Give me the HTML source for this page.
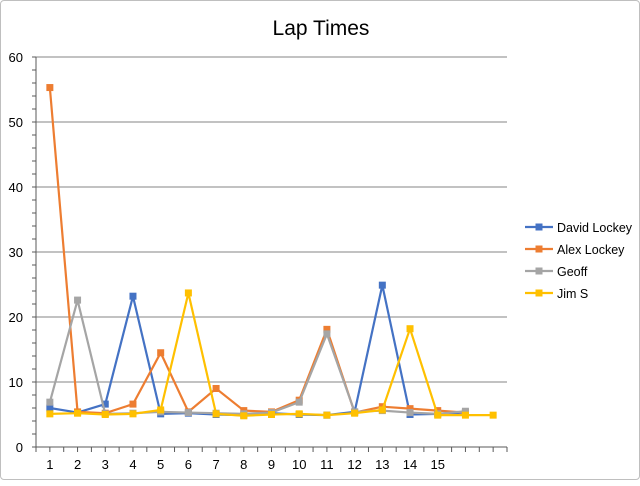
<!DOCTYPE html>
<html><head><meta charset="utf-8"><style>
body{margin:0;background:#fff;font-family:"Liberation Sans",sans-serif}
#c{position:absolute;left:0;top:0;width:638px;height:478px;border:1px solid #bfbfbf;border-radius:4px}
</style></head><body>
<div id="c">
<svg id="s" width="640" height="480"></svg>
</div>
<script>
const categories=[1,2,3,4,5,6,7,8,9,10,11,12,13,14,15,16,17];
const tickLabels=["1","2","3","4","5","6","7","8","9","10","11","12","13","14","15","",""];
const yTicks=[0,10,20,30,40,50,60];
const seriesNames=["David Lockey","Alex Lockey","Geoff","Jim S"];
const david=[6.0,5.3,6.6,23.2,5.1,5.2,5.0,4.9,5.2,5.0,4.9,5.4,24.9,5.0,5.1,5.3];
const alex=[55.3,5.4,5.2,6.6,14.5,5.4,9.0,5.6,5.4,7.2,18.1,5.3,6.2,5.9,5.6,5.3];
const geoff=[6.9,22.6,5.1,5.2,5.4,5.3,5.2,5.1,5.3,6.9,17.4,5.4,5.6,5.3,5.1,5.5];
const jim=[5.1,5.2,5.0,5.1,5.7,23.7,5.1,4.8,5.0,5.1,4.9,5.2,5.7,18.2,4.9,4.9,4.9];
const colors=["#4472c4","#ed7d31","#a5a5a5","#ffc000"];
const NS="http://www.w3.org/2000/svg",s=document.getElementById('s');
const X0=35,X1=506,Y0=446,Y1=56,bw=(X1-X0)/categories.length;
const xs=i=>X0+bw*(i+0.5), ys=v=>Y0-(v/60)*(Y0-Y1);
function mk(t,a,p){const e=document.createElementNS(NS,t);for(const k in a)e.setAttribute(k,a[k]);(p||s).appendChild(e);return e;}
let t=mk('text',{x:320,y:34,'text-anchor':'middle','font-size':21,fill:'#000'});t.textContent='Lap Times';


yTicks.forEach(v=>{
 if(v>0){const g=mk('line',{x1:X0,x2:X1,y1:ys(v),y2:ys(v),stroke:'#868686','stroke-width':1});
 
 }
 const l=mk('text',{x:22,y:ys(v)+5,'text-anchor':'end','font-size':13,fill:'#000'});l.textContent=v;
 
 
});
for(let v=0;v<=60;v+=2){mk('line',{x1:X0-4,x2:X0,y1:ys(v),y2:ys(v),stroke:'#595959'});}
mk('line',{x1:X0,x2:X0,y1:Y1,y2:Y0+4,stroke:'#595959'});
mk('line',{x1:X0,x2:X1,y1:Y0,y2:Y0,stroke:'#595959'});
for(let i=0;i<=categories.length*2;i++){const x=X0+bw*i/2;mk('line',{x1:x,x2:x,y1:Y0,y2:Y0+5,stroke:'#595959'});}
tickLabels.forEach((lab,i)=>{if(!lab)return;const l=mk('text',{x:xs(i),y:Y0+22,'text-anchor':'middle','font-size':13,fill:'#000'});l.textContent=lab;
 
 });
[david,alex,geoff,jim].forEach((d,k)=>{
 const g=mk('g',{});
 
 
 mk('polyline',{points:d.map((v,i)=>xs(i)+','+ys(v)).join(' '),fill:'none',stroke:colors[k],'stroke-width':2.2},g);
 d.forEach((v,i)=>{const r=mk('rect',{x:xs(i)-3.5,y:ys(v)-3.5,width:7,height:7,fill:colors[k]},g);
 
 });
 const ly=226+22*k;
 const lg=mk('g',{});
 
 
 mk('line',{x1:524,x2:552,y1:ly,y2:ly,stroke:colors[k],'stroke-width':2.2},lg);
 mk('rect',{x:534.5,y:ly-3.5,width:7,height:7,fill:colors[k]},lg);
 const tx=mk('text',{x:556,y:ly+5,'font-size':12.5,fill:'#000'},lg);tx.textContent=seriesNames[k];
});
</script></body></html>
